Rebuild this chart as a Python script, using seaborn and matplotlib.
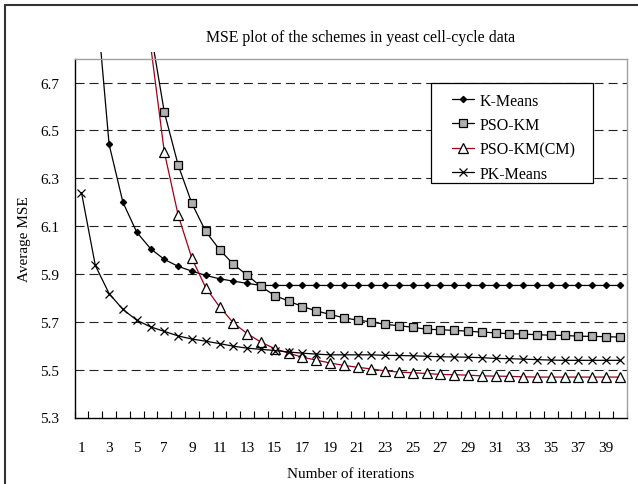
import matplotlib
matplotlib.use("Agg")
import matplotlib.pyplot as plt
from matplotlib.lines import Line2D
from matplotlib.patches import Rectangle
import numpy as np
import pandas as pd
import seaborn as sns

# Average MSE per iteration for each clustering scheme
iterations = list(range(1, 41))
kmeans = [8.3, 7.10, 6.442, 6.200, 6.075, 6.006, 5.961, 5.932, 5.912, 5.894,
          5.880, 5.870, 5.861, 5.852, 5.852, 5.852, 5.852, 5.852, 5.852, 5.852,
          5.852, 5.852, 5.852, 5.852, 5.852, 5.852, 5.852, 5.852, 5.852, 5.852,
          5.852, 5.852, 5.852, 5.852, 5.852, 5.852, 5.852, 5.852, 5.852, 5.852]
pso_km = [13.0, 11.0, 9.5, 8.28, 7.45, 6.92, 6.577, 6.356, 6.195, 6.078,
          6.002, 5.941, 5.895, 5.848, 5.810, 5.787, 5.764, 5.746, 5.731, 5.717,
          5.707, 5.700, 5.689, 5.684, 5.677, 5.669, 5.667, 5.664, 5.661, 5.657,
          5.654, 5.650, 5.649, 5.646, 5.644, 5.643, 5.640, 5.639, 5.638, 5.636]
pso_km_cm = [15.0, 12.5, 10.5, 8.8, 7.6, 6.86, 6.410, 6.147, 5.965, 5.843,
             5.763, 5.696, 5.651, 5.615, 5.588, 5.569, 5.552, 5.540, 5.528, 5.518,
             5.510, 5.503, 5.495, 5.490, 5.487, 5.484, 5.480, 5.479, 5.477, 5.474,
             5.473, 5.472, 5.470, 5.469, 5.469, 5.469, 5.469, 5.469, 5.469, 5.469]
pk_means = [6.240, 5.936, 5.818, 5.752, 5.707, 5.679, 5.660, 5.641, 5.628, 5.619,
            5.609, 5.598, 5.590, 5.585, 5.580, 5.574, 5.569, 5.565, 5.562, 5.562,
            5.562, 5.562, 5.560, 5.559, 5.558, 5.556, 5.554, 5.553, 5.552, 5.550,
            5.547, 5.546, 5.544, 5.542, 5.540, 5.539, 5.539, 5.539, 5.539, 5.539]

series_names = ["K-Means", "PSO-KM", "PSO-KM(CM)", "PK-Means"]
x_tick_values = list(range(1, 40, 2))
y_tick_values = [5.3, 5.5, 5.7, 5.9, 6.1, 6.3, 6.5, 6.7]

title = "MSE plot of the schemes in yeast cell-cycle data"
x_label = "Number of iterations"
y_label = "Average MSE"

sns.set_theme(style="white")
plt.rcParams["font.family"] = ["Liberation Serif", "DejaVu Serif"]
plt.rcParams["lines.scale_dashes"] = False

df = pd.DataFrame({
    "iteration": iterations,
    "K-Means": kmeans,
    "PSO-KM": pso_km,
    "PSO-KM(CM)": pso_km_cm,
    "PK-Means": pk_means,
}).melt(id_vars="iteration", var_name="scheme", value_name="mse")

styles = {
    "K-Means": dict(color="black", marker="D", markersize=3.2,
                    markerfacecolor="black", markeredgecolor="black"),
    "PSO-KM": dict(color="black", marker="s", markersize=5.3,
                   markerfacecolor="#b0b0b0", markeredgecolor="black"),
    "PSO-KM(CM)": dict(color="#a00018", marker="^", markersize=6.6,
                       markerfacecolor="white", markeredgecolor="black"),
    "PK-Means": dict(color="black", marker="x", markersize=6.3,
                     markeredgecolor="black"),
}

W, H = 638, 485
fig = plt.figure(figsize=(W / 100, H / 100), dpi=100)
ax_left, ax_right, ax_top, ax_bottom = 74.6, 626.6, 59.7, 418.5
ax = fig.add_axes([ax_left / W, 1 - ax_bottom / H,
                   (ax_right - ax_left) / W, (ax_bottom - ax_top) / H])
ax_w, ax_h = ax_right - ax_left, ax_bottom - ax_top

for name in series_names:
    sub = df[df["scheme"] == name]
    sns.lineplot(data=sub, x="iteration", y="mse", ax=ax, label=name,
                 linewidth=0.9, markeredgewidth=0.9, **styles[name])

# let the curves run a few pixels past the top of the plot area
clip = Rectangle((0, 0), 1, 1 + 7 / ax_h, transform=ax.transAxes,
                 facecolor="none", edgecolor="none")
for line in ax.lines:
    line.set_clip_path(clip)

ax.set_xlim(0.5, 40.5)
ax.set_ylim(5.3, 6.8)

# dashed horizontal gridlines
ax.set_yticks(y_tick_values)
ax.set_yticklabels([f"{v:.1f}" for v in y_tick_values])
ax.grid(False)
for v in y_tick_values[1:]:
    ax.axhline(v, color="#222222", linewidth=0.8, linestyle=(0, (6.5, 3.6)),
               zorder=0.5)

ax.set_xticks(x_tick_values)
ax.set_xticklabels([str(v) for v in x_tick_values])
ax.set_xticks(np.arange(0.5, 41, 1.0), minor=True)
ax.tick_params(axis="x", which="major", length=0, pad=17, labelsize=11,
               colors="black")
ax.tick_params(axis="x", which="minor", bottom=True, direction="in",
               length=5, width=0.8, color="black")
ax.tick_params(axis="y", which="both", length=0, pad=11, labelsize=11,
               colors="black")

for side in ["left", "bottom"]:
    ax.spines[side].set_color("black")
    ax.spines[side].set_linewidth(1.0)
for side in ["top", "right"]:
    ax.spines[side].set_color("#a0a0a0")
    ax.spines[side].set_linewidth(1.0)

ax.set_xlabel(x_label, fontsize=11, labelpad=9, color="black")
ax.set_ylabel(y_label, fontsize=11, labelpad=7, color="black")

# legend: entries without their own frame, boxed by a separate rectangle
box_l, box_r, box_t, box_b = 431, 593, 84, 184
ax.add_patch(Rectangle(((box_l - ax_left) / ax_w, (ax_bottom - box_b) / ax_h),
                       (box_r - box_l) / ax_w, (box_b - box_t) / ax_h,
                       transform=ax.transAxes, facecolor="white",
                       edgecolor="black", linewidth=0.9, zorder=4.9,
                       clip_on=False))
leg = ax.legend(loc="upper left",
                bbox_to_anchor=((452 - ax_left) / ax_w, (ax_bottom - 93.5) / ax_h),
                borderaxespad=0, borderpad=0, frameon=False, fontsize=11.5,
                handlelength=1.375, handletextpad=0.375, labelspacing=0.53)
leg.set_zorder(5)
for t in leg.get_texts():
    t.set_color("black")

fig.text(0.565, 1 - 41.7 / H, title, ha="center", va="baseline",
         fontsize=11.4, color="black")

# chart frame
fig.add_artist(Line2D([4.5 / W, 4.5 / W], [0, 1 - 5.5 / H],
                      transform=fig.transFigure, color="#333333", linewidth=1.5))
fig.add_artist(Line2D([4.5 / W, 1], [1 - 5.5 / H, 1 - 5.5 / H],
                      transform=fig.transFigure, color="#333333", linewidth=1.5))

fig.savefig("out.png", dpi=100)
